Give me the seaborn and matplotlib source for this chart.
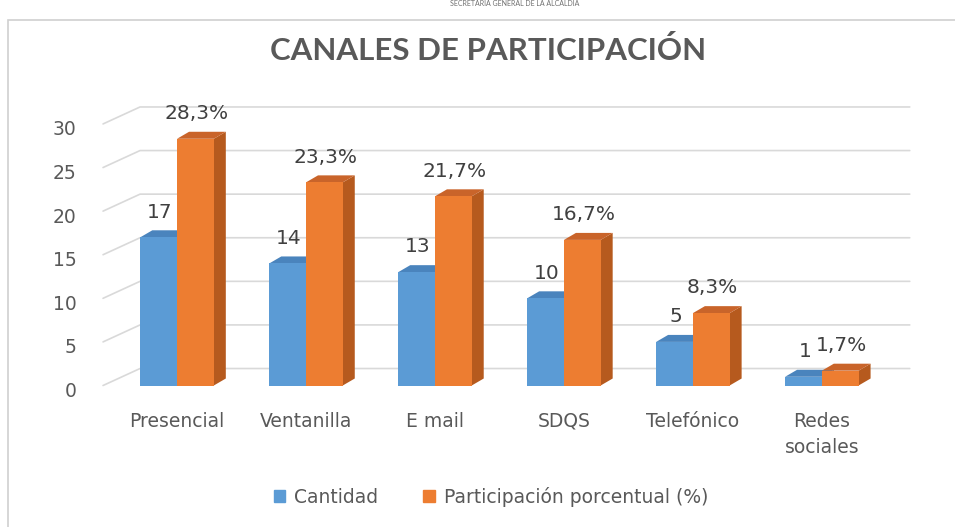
import pandas as pd
import matplotlib.pyplot as plt
import matplotlib.patches as mpatches
import matplotlib.transforms as mtransforms
from matplotlib.patches import Polygon, Rectangle
import seaborn as sns

#%% data

canales = ['Presencial', 'Ventanilla', 'E mail', 'SDQS', 'Telefónico', 'Redes\nsociales']
cantidad = [17, 14, 13, 10, 5, 1]
participacion = [28.3, 23.3, 21.7, 16.7, 8.3, 1.7]
series = ['Cantidad', 'Participación porcentual (%)']
y_ticks = [0, 5, 10, 15, 20, 25, 30]

df = pd.DataFrame({
    'canal': canales * 2,
    'valor': cantidad + participacion,
    'serie': [series[0]] * len(canales) + [series[1]] * len(canales),
})

#%% colours

azul, naranja = '#5B9BD5', '#ED7D31'
lados = {azul: '#3F74A8', naranja: '#B65A1E'}
techos = {azul: '#4A84BD', naranja: '#C9642A'}
gris = '#595959'

#%% plot

sns.set_style("white")
plt.rcParams['font.family'] = ['DejaVu Sans']

fig = plt.figure(figsize=(9.55, 5.27), dpi=100)
ax = fig.add_axes([0.1079, (527 - 385.5) / 527, 0.806, 0.5294])

sns.barplot(data=df, x='canal', y='valor', hue='serie', palette=[azul, naranja],
            width=0.57, saturation=1, legend=False, ax=ax, zorder=3)

xl, xr = -0.574, 5.395
ax.set_xlim(xl, xr)
ax.set_ylim(0, 32)

# depth of bars and of the back wall (data units)
dx, dy = 12 / 129, 7 / 8.73
wx, wy = 37 / 129, 17 / 8.73

# back wall grid with floor diagonals
for t in y_ticks:
    ax.plot([xl, xl + wx, xr + wx], [t, t + wy, t + wy], color='#D9D9D9', lw=1.2,
            clip_on=False, zorder=1)

# 3D faces of the bars
for cont, col in zip(ax.containers, [azul, naranja]):
    for bar in cont:
        x0, w, h = bar.get_x(), bar.get_width(), bar.get_height()
        bar.set_edgecolor('none')
        side = [(x0 + w, 0), (x0 + w, h), (x0 + w + dx, h + dy), (x0 + w + dx, dy)]
        top = [(x0, h), (x0 + w, h), (x0 + w + dx, h + dy), (x0 + dx, h + dy)]
        ax.add_patch(Polygon(side, closed=True, fc=lados[col], ec='none', zorder=2,
                             clip_on=False))
        ax.add_patch(Polygon(top, closed=True, fc=techos[col], ec='none', zorder=2,
                             clip_on=False))

# data labels
for cont, fmt in zip(ax.containers, ['{:.0f}', '{:.1f}%']):
    for bar in cont:
        h = bar.get_height()
        ax.text(bar.get_x() + bar.get_width() / 2 + 0.01, h + 2.9,
                fmt.format(h).replace('.', ','), ha='center', va='center',
                fontsize=14.5, color='#404040', clip_on=False)

sns.despine(ax=ax, left=True, bottom=True)
ax.set_yticks(y_ticks)
ax.tick_params(axis='y', length=0, pad=19, labelsize=13.5, labelcolor=gris)
ax.tick_params(axis='x', length=0, pad=19, labelsize=13.5, labelcolor=gris)
shift = mtransforms.ScaledTranslation(0, -4 / 100, fig.dpi_scale_trans)
for lab in ax.get_yticklabels():
    lab.set_transform(lab.get_transform() + shift)
for lab in ax.get_xticklabels():
    if '\n' in lab.get_text():
        lab.set_linespacing(1.45)
ax.set_xlabel('')
ax.set_ylabel('')
ax.grid(False)

fig.text(488 / 955, 1 - 51 / 527, 'CANALES DE PARTICIPACIÓN', ha='center', va='center',
         fontsize=22.5, fontweight='bold', color=gris, family=['Lato', 'DejaVu Sans'])
fig.text(515 / 955, 1 - 4 / 527, 'SECRETARÍA GENERAL DE LA ALCALDÍA', ha='center',
         va='center', fontsize=5, color='#707070', family=['Lato', 'DejaVu Sans'])

# chart area border
fig.patches.append(Rectangle((8 / 955, -0.1), 1.2, 1.1 - 20 / 527, transform=fig.transFigure,
                             fill=False, ec='#D0D0D0', lw=1.2, zorder=0))

handles = [mpatches.Patch(color=azul, label=series[0]),
           mpatches.Patch(color=naranja, label=series[1])]
fig.legend(handles=handles, loc='center', bbox_to_anchor=(491 / 955, 1 - 497 / 527),
           ncol=2, frameon=False, fontsize=13.5, labelcolor=gris, handlelength=0.6,
           handleheight=0.6, handletextpad=0.5, columnspacing=2.4)

fig.savefig('out.png', dpi=100)
